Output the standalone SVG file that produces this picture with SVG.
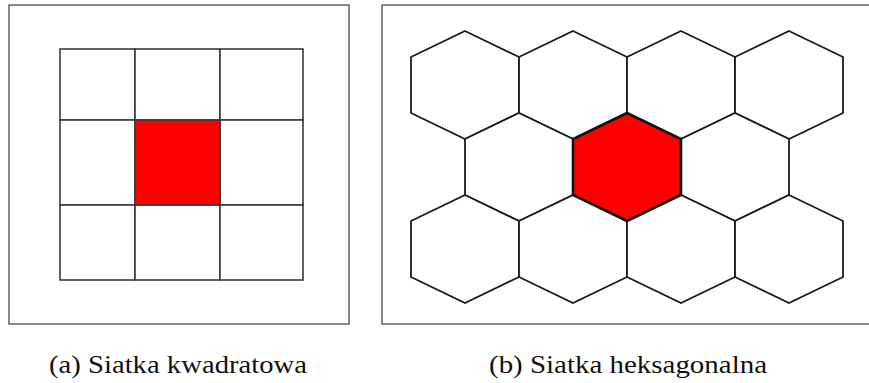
<svg xmlns="http://www.w3.org/2000/svg" width="869" height="383" viewBox="0 0 869 383">
<style>
.frame{fill:#fff;stroke:#3a3a3a;stroke-width:1.2}
.sq{fill:#fff;stroke:#3a3a3a;stroke-width:1.6}
.hex{fill:#fff;stroke:#1a1a1a;stroke-width:1.8;stroke-linejoin:miter}
.red{fill:#ff0000}
.hexred{fill:#ff0000;stroke:#111;stroke-width:2.6}
.cap{font-size:26px;fill:#111}
</style>
<defs>
<polygon id="h" points="0,-54 54,-28 54,28 0,54 -54,28 -54,-28"/>
</defs>
<rect width="869" height="383" fill="#fff"/>
<g id="panel-a">
<rect class="frame" x="9" y="5" width="340" height="319"/>
<g id="sq-1-1"><rect class="sq" x="60" y="49" width="75" height="71"/></g>
<g id="sq-1-2"><rect class="sq" x="135" y="49" width="85" height="71"/></g>
<g id="sq-1-3"><rect class="sq" x="220" y="49" width="83" height="71"/></g>
<g id="sq-2-1"><rect class="sq" x="60" y="120" width="75" height="85"/></g>
<g id="sq-2-3"><rect class="sq" x="220" y="120" width="83" height="85"/></g>
<g id="sq-3-1"><rect class="sq" x="60" y="205" width="75" height="75"/></g>
<g id="sq-3-2"><rect class="sq" x="135" y="205" width="85" height="75"/></g>
<g id="sq-3-3"><rect class="sq" x="220" y="205" width="83" height="75"/></g>
<g id="sq-2-2"><rect class="sq red" x="135" y="120" width="85" height="85"/></g>
</g>
<g id="panel-b">
<rect class="frame" x="382" y="5" width="495" height="319"/>
<g id="hex-1-1"><use href="#h" class="hex" x="465" y="85"/></g>
<g id="hex-1-2"><use href="#h" class="hex" x="573" y="85"/></g>
<g id="hex-1-3"><use href="#h" class="hex" x="681" y="85"/></g>
<g id="hex-1-4"><use href="#h" class="hex" x="789" y="85"/></g>
<g id="hex-2-1"><use href="#h" class="hex" x="519" y="167"/></g>
<g id="hex-2-3"><use href="#h" class="hex" x="735" y="167"/></g>
<g id="hex-3-1"><use href="#h" class="hex" x="465" y="249"/></g>
<g id="hex-3-2"><use href="#h" class="hex" x="573" y="249"/></g>
<g id="hex-3-3"><use href="#h" class="hex" x="681" y="249"/></g>
<g id="hex-3-4"><use href="#h" class="hex" x="789" y="249"/></g>
<g id="hex-2-2"><use href="#h" class="hexred" x="627" y="167"/></g>
</g>
<g id="connectors"></g>
<g id="captions" font-family="'Liberation Serif', 'DejaVu Serif', serif">
<text class="cap" x="178" y="373" text-anchor="middle" textLength="258" lengthAdjust="spacingAndGlyphs">(a) Siatka kwadratowa</text>
<text class="cap" x="628" y="373" text-anchor="middle" textLength="278" lengthAdjust="spacingAndGlyphs">(b) Siatka heksagonalna</text>
</g>
</svg>
